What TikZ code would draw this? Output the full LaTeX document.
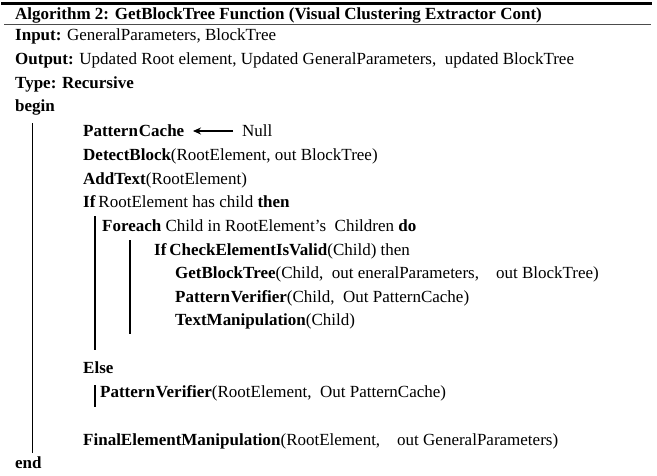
\documentclass[tikz,border=0pt]{standalone}
\usepackage{fontspec}
\setmainfont{Liberation Serif}
\usetikzlibrary{arrows.meta}
\tikzset{
  ln/.style={anchor=base west, inner sep=0pt, font=\fontsize{17}{20}\selectfont},
  bar/.style={line width=1.3pt, black},
}
\begin{document}
\begin{tikzpicture}[x=1pt,y=-1pt]
\useasboundingbox (0,0) rectangle (657,475);
% rules
\coordinate (r1a) at (1,3); \coordinate (r1b) at (652,3);
\coordinate (r2a) at (4,24.5); \coordinate (r2b) at (651,24.5);
\draw[line width=3pt] (r1a) -- (r1b);
\draw[line width=1.5pt, black!70] (r2a) -- (r2b);
% header
\node[ln] (hdr) at (15,19) {\textbf{Algorithm 2: GetBlockTree Function (Visual Clustering Extractor Cont)}};
\node[ln] (inp) at (15,40) {\textbf{Input:} GeneralParameters, BlockTree};
\node[ln] (out) at (15,64) {\textbf{Output:} Updated Root element, Updated GeneralParameters,\ \ updated BlockTree};
\node[ln] (typ) at (15,88) {\textbf{Type: Recursive}};
\node[ln] (beg) at (15,111) {\textbf{begin}};
\node[ln] (pc) at (83,136) {\textbf{Pattern\kern1pt Cache}};
\node[ln] (nul) at (242,136) {Null};
\coordinate (arS) at (233,131);
\coordinate (arE) at (193,131);
\draw[-{Stealth[length=8pt,width=7pt]}, line width=1.1pt] (arS) -- (arE);
\node[ln] (det) at (83,160) {\textbf{DetectBlock}(RootElement, out BlockTree)};
\node[ln] (add) at (83,184) {\textbf{AddText}(RootElement)};
\node[ln] (if1) at (83,207) {\textbf{If}\,RootElement has child \textbf{then}};
\node[ln] (for) at (102,231) {\textbf{Foreach} Child in RootElement's\ \ Children \textbf{do}};
\node[ln] (if2) at (154,255) {\textbf{If\,CheckElementIsValid}(Child) then};
\node[ln] (gbt) at (175,278) {\textbf{GetBlockTree}(Child,\ \ out eneralParameters,\ \ \ \ out BlockTree)};
\node[ln] (pv1) at (175,302) {\textbf{Pattern\kern1pt Verifier}(Child,\ \ Out PatternCache)};
\node[ln] (txt) at (175,325) {\textbf{TextManipulation}(Child)};
\node[ln] (els) at (83,373) {\textbf{Else}};
\node[ln] (pv2) at (100,397) {\textbf{Pattern\kern1pt Verifier}(RootElement,\ \ Out PatternCache)};
\node[ln] (fin) at (83,445) {\textbf{FinalElementManipulation}(RootElement,\ \ \ \ out GeneralParameters)};
\node[ln] (end) at (15,468) {\textbf{end}};
% block bars
\coordinate (b1a) at (32.5,123); \coordinate (b1b) at (32.5,453);
\coordinate (b2a) at (95,216); \coordinate (b2b) at (95,350);
\coordinate (b3a) at (130,240); \coordinate (b3b) at (130,334);
\coordinate (b4a) at (95,385); \coordinate (b4b) at (95,407);
\draw[bar] (b1a) -- (b1b);
\draw[bar] (b2a) -- (b2b);
\draw[bar] (b3a) -- (b3b);
\draw[bar] (b4a) -- (b4b);
\end{tikzpicture}
\end{document}
